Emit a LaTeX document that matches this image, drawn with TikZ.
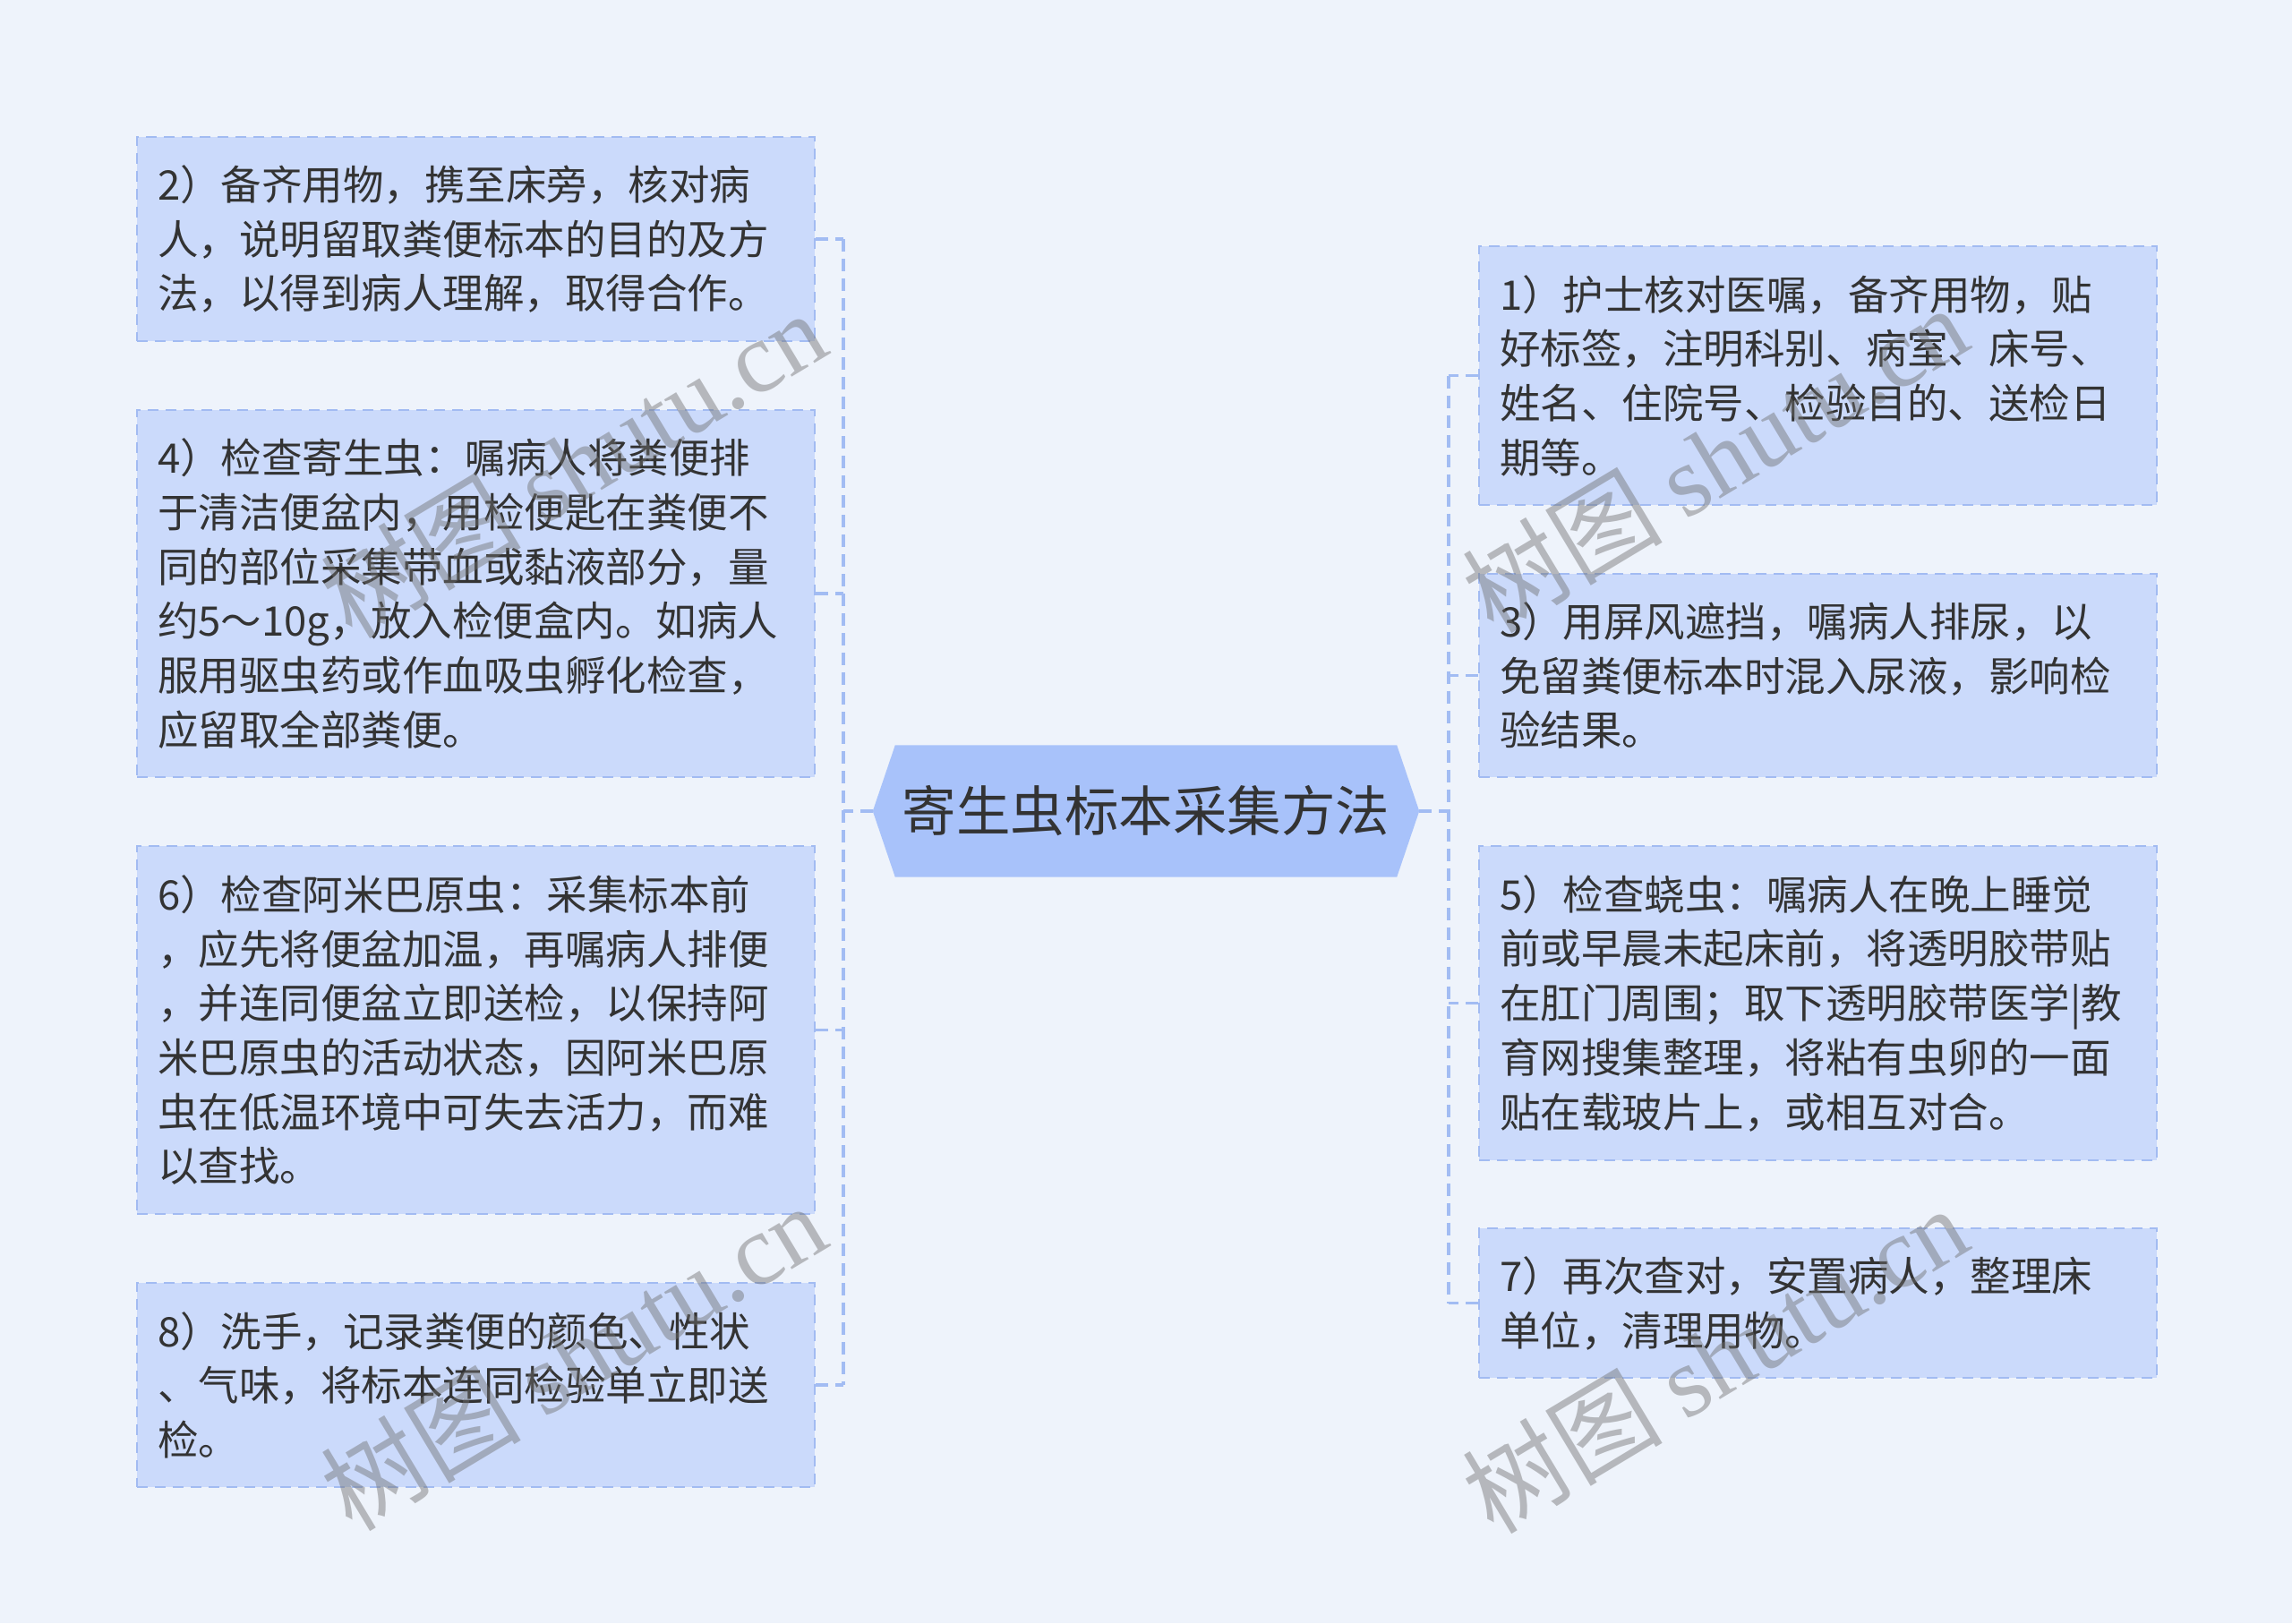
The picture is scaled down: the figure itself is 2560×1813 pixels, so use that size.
\documentclass[tikz,border=0pt]{standalone}
\usepackage{fontspec}
\setmainfont{Noto Sans CJK SC}
\newfontfamily\wmlatin{Liberation Serif}
\newfontfamily\wmcjk{Noto Sans CJK SC}
\usetikzlibrary{calc,backgrounds}
\definecolor{bgcol}{HTML}{EEF3FB}
\definecolor{boxfill}{HTML}{CBDAFB}
\definecolor{boxline}{HTML}{A2BBF2}
\definecolor{hexfill}{HTML}{A8C2FA}
\definecolor{conncol}{HTML}{A2BCF3}
\definecolor{txtcol}{HTML}{333333}
\definecolor{wmcol}{HTML}{707070}
\begin{document}
\begin{tikzpicture}[x=1pt,y=-1pt,
  leaf/.style={draw=boxline, fill=boxfill, line width=2.2pt, dash pattern=on 12pt off 8pt,
    rectangle, inner xsep=23pt, inner ysep=0pt, anchor=north west, align=left,
    text width=711pt, minimum width=757pt, text=txtcol,
    font=\fontsize{45.5pt}{60.7pt}\selectfont},
  hub/.style={rectangle, inner sep=0pt, minimum width=610pt, minimum height=147pt,
    text=txtcol, font=\fontsize{60.5pt}{70pt}\selectfont},
  conn/.style={draw=conncol, line width=3.5pt, dash pattern=on 14pt off 8pt},
  wmark/.style={text=wmcol, opacity=0.45, rotate=31, inner sep=0pt,
    font=\fontsize{112pt}{120pt}\selectfont}
]
\useasboundingbox (0,0) rectangle (2560,1813);

% central topic
\node[hub] (c) at (1280,906) {寄生虫标本采集方法};

% left boxes
\node[leaf, minimum height=228pt] (L2) at (152,152) {2）备齐用物，携至床旁，核对病\\人，说明留取粪便标本的目的及方\\法，以得到病人理解，取得合作。};
\node[leaf, minimum height=410pt] (L4) at (152,457) {4）检查寄生虫：嘱病人将粪便排\\于清洁便盆内，用检便匙在粪便不\\同的部位采集带血或黏液部分，量\\约5～10g，放入检便盒内。如病人\\服用驱虫药或作血吸虫孵化检查，\\应留取全部粪便。};
\node[leaf, minimum height=411pt] (L6) at (152,944) {6）检查阿米巴原虫：采集标本前\\，应先将便盆加温，再嘱病人排便\\，并连同便盆立即送检，以保持阿\\米巴原虫的活动状态，因阿米巴原\\虫在低温环境中可失去活力，而难\\以查找。};
\node[leaf, minimum height=228pt] (L8) at (152,1432) {8）洗手，记录粪便的颜色、性状\\、气味，将标本连同检验单立即送\\检。};

% right boxes
\node[leaf, minimum height=289pt] (R1) at (1651,274) {1）护士核对医嘱，备齐用物，贴\\好标签，注明科别、病室、床号、\\姓名、住院号、检验目的、送检日\\期等。};
\node[leaf, minimum height=227pt] (R3) at (1651,640) {3）用屏风遮挡，嘱病人排尿，以\\免留粪便标本时混入尿液，影响检\\验结果。};
\node[leaf, minimum height=351pt] (R5) at (1651,944) {5）检查蛲虫：嘱病人在晚上睡觉\\前或早晨未起床前，将透明胶带贴\\在肛门周围；取下透明胶带医学|教\\育网搜集整理，将粘有虫卵的一面\\贴在载玻片上，或相互对合。};
\node[leaf, minimum height=167pt] (R7) at (1651,1371) {7）再次查对，安置病人，整理床\\单位，清理用物。};

% background and hexagon
\begin{scope}[on background layer]
  \fill[bgcol] (0,0) rectangle (2560,1813);
  \fill[hexfill] ($(c.north west)+(25,0)$) -- ($(c.north east)+(-25,0)$) -- (c.east)
    -- ($(c.south east)+(-25,0)$) -- ($(c.south west)+(25,0)$) -- (c.west) -- cycle;
\end{scope}

% connectors
\coordinate (lt) at (942,906);
\coordinate (rt) at (1618,906);
\draw[conn] (c.west) -- (lt);
\draw[conn] (c.east) -- (rt);
\draw[conn] (L2.east -| lt) -- (L8.east -| lt);
\draw[conn] (R1.west -| rt) -- (R7.west -| rt);
\foreach \b in {L2,L4,L6,L8} { \draw[conn] (\b.east) -- (\b.east -| lt); }
\foreach \b in {R1,R3,R5,R7} { \draw[conn] (\b.west) -- (\b.west -| rt); }

% watermarks
\node[wmark] (w1) at (640,518) {{\wmcjk 树图} {\wmlatin shutu.cn}};
\node[wmark] (w2) at (1915,512) {{\wmcjk 树图} {\wmlatin shutu.cn}};
\node[wmark] (w3) at (640,1515) {{\wmcjk 树图} {\wmlatin shutu.cn}};
\node[wmark] (w4) at (1915,1518) {{\wmcjk 树图} {\wmlatin shutu.cn}};
\end{tikzpicture}
\end{document}
